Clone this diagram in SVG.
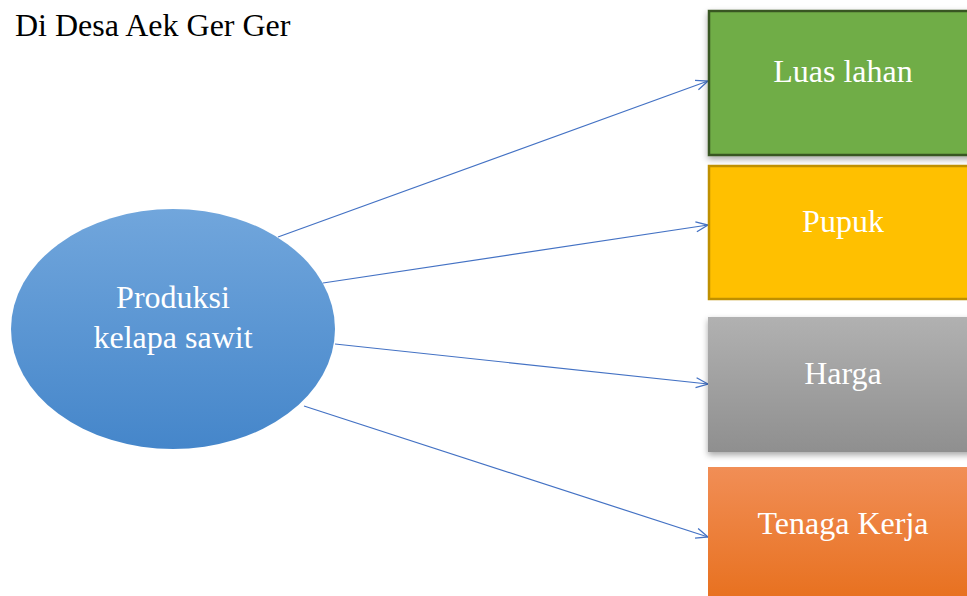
<svg xmlns="http://www.w3.org/2000/svg" width="967" height="596" viewBox="0 0 967 596">
<style>
text{font-family:"Liberation Serif","Times New Roman",serif;font-size:32px}
.w{fill:#FFFFFF;text-anchor:middle}
.c{stroke:#4472C4;stroke-width:1.2;fill:none}
</style>
<defs>
<linearGradient id="gb" x1="0" y1="0" x2="0" y2="1"><stop offset="0" stop-color="#71A6DC"/><stop offset="1" stop-color="#4586CA"/></linearGradient>
<linearGradient id="gg" x1="0" y1="0" x2="0" y2="1"><stop offset="0" stop-color="#B1B1B1"/><stop offset="1" stop-color="#8F8F8F"/></linearGradient>
<linearGradient id="go" x1="0" y1="0" x2="0" y2="1"><stop offset="0" stop-color="#F18E56"/><stop offset="1" stop-color="#E76F1C"/></linearGradient>
<filter id="sh" x="-10%" y="-10%" width="130%" height="130%"><feDropShadow dx="0" dy="3" stdDeviation="3" flood-color="#000" flood-opacity="0.35"/></filter>
<marker id="ah" viewBox="0 0 14 12" refX="13" refY="6" markerWidth="14" markerHeight="12" markerUnits="userSpaceOnUse" orient="auto"><path d="M1,1 L13,6 L1,11" fill="none" stroke="#4472C4" stroke-width="1.3"/></marker>
</defs>
<text x="15" y="36" fill="#000">Di Desa Aek Ger Ger</text>
<g id="connectors">
<line class="c" x1="278" y1="237" x2="708" y2="81" marker-end="url(#ah)"/>
<line class="c" x1="323" y1="283" x2="708" y2="225" marker-end="url(#ah)"/>
<line class="c" x1="335" y1="344" x2="708" y2="384" marker-end="url(#ah)"/>
<line class="c" x1="304" y1="406" x2="708" y2="537" marker-end="url(#ah)"/>
</g>
<g id="produksi">
<ellipse cx="173" cy="329" rx="162" ry="120" fill="url(#gb)"/>
<text class="w" x="173" y="308">Produksi</text>
<text class="w" x="173" y="348">kelapa sawit</text>
</g>
<g id="luas">
<rect x="709" y="11" width="270" height="144" fill="#70AD47" stroke="#385723" stroke-width="2.5" filter="url(#sh)"/>
<text class="w" x="843" y="82">Luas lahan</text>
</g>
<g id="pupuk">
<rect x="709" y="166" width="270" height="133" fill="#FFC000" stroke="#BF9000" stroke-width="2.5"/>
<text class="w" x="843" y="232">Pupuk</text>
</g>
<g id="harga">
<rect x="708" y="317" width="270" height="135" fill="url(#gg)" filter="url(#sh)"/>
<text class="w" x="843" y="384">Harga</text>
</g>
<g id="tenaga">
<rect x="708" y="467" width="270" height="140" fill="url(#go)"/>
<text class="w" x="843" y="534">Tenaga Kerja</text>
</g>
</svg>
